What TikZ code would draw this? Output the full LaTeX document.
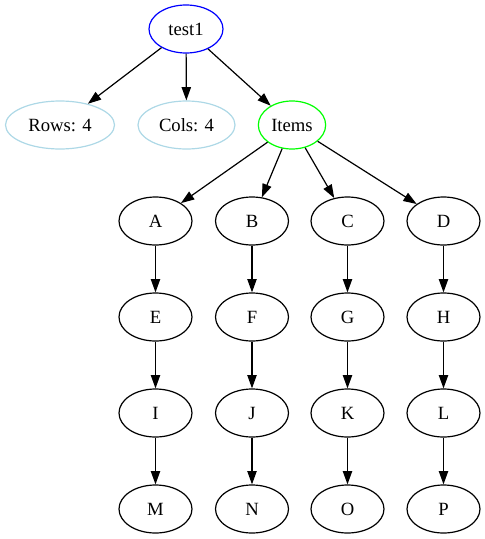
\documentclass[tikz,border=0pt]{standalone}
\usepackage{fontspec}
\setmainfont{Liberation Serif}
\usetikzlibrary{shapes.geometric,arrows.meta}
\definecolor{gvlightblue}{RGB}{173,216,230}
\definecolor{gvgreen}{RGB}{0,255,0}
\definecolor{gvblue}{RGB}{0,0,255}
\begin{document}
\begin{tikzpicture}[x=0.75pt,y=-0.75pt,
  gv/.style={ellipse,draw,line width=0.9pt,inner sep=0pt,minimum height=36pt,minimum width=54.75pt,font=\fontsize{14pt}{16pt}\selectfont},
  edge/.style={-{Triangle[length=10pt,width=7pt]},line width=0.9pt}]
\useasboundingbox (0,0) rectangle (485,539);
\node[gv,draw=gvblue,minimum width=55.5pt] (test1) at (186,29) {test1};
\node[gv,draw=gvlightblue,minimum width=81.75pt] (rows) at (60,125) {Rows: 4};
\node[gv,draw=gvlightblue,minimum width=72.75pt] (cols) at (186.5,125) {Cols: 4};
\node[gv,draw=gvgreen,minimum width=50.5pt] (items) at (292,125) {Items};
\foreach \n/\x/\y in {A/155.5/221,B/252/221,C/347.5/221,D/443.5/221,
                      E/155.5/317,F/252/317,G/347.5/317,H/443.5/317,
                      I/155.5/413,J/252/413,K/347.5/413,L/443.5/413,
                      M/155.5/509,N/252/509,O/347.5/509,P/443.5/509}
  \node[gv] (\n) at (\x,\y) {\n};
\draw[edge] (test1) -- (rows);
\draw[edge] (test1) -- (cols);
\draw[edge] (test1) -- (items);
\foreach \t in {A,B,C,D} \draw[edge] (items) -- (\t);
\foreach \s/\t in {A/E,B/F,C/G,D/H,E/I,F/J,G/K,H/L,I/M,J/N,K/O,L/P}
  \draw[edge] (\s) -- (\t);
\end{tikzpicture}
\end{document}
